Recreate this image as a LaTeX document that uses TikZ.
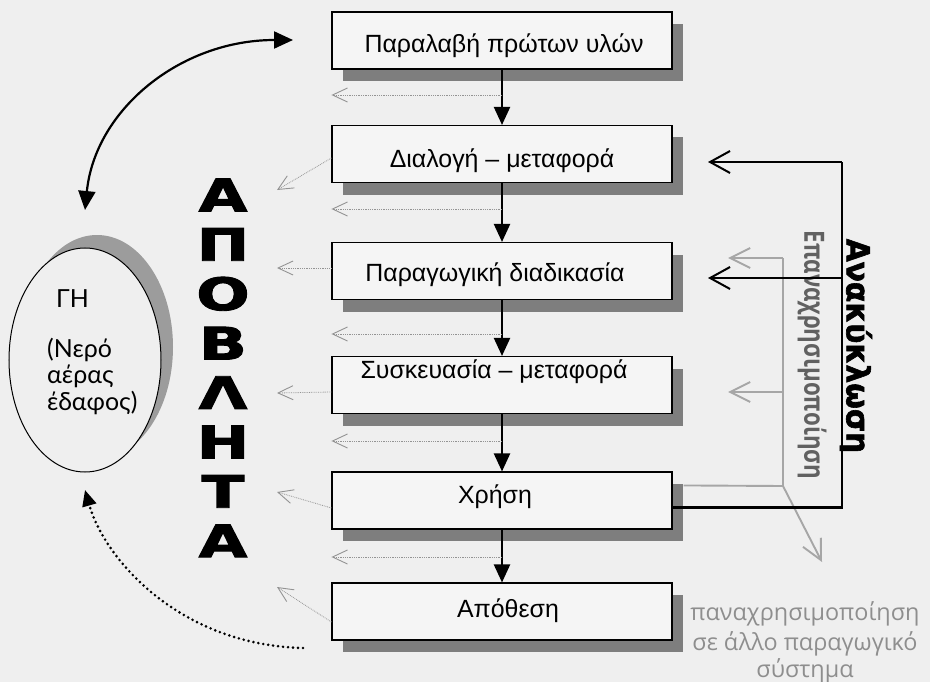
\documentclass[tikz,border=0pt]{standalone}
\usepackage{fontspec}
\setmainfont{Liberation Sans}
\newfontfamily\heavyfont{DejaVu Sans}[FakeBold=2]
\newfontfamily\humfont{Lato}
\newfontfamily\roundfont{Open Sans}
\usetikzlibrary{arrows.meta,shadows,calc,shapes.geometric}
\definecolor{bg}{HTML}{EFEFEF}
\definecolor{boxfill}{HTML}{F5F5F5}
\definecolor{shadowgray}{HTML}{7E7E7E}
\definecolor{crescent}{HTML}{9C9C9C}
\definecolor{reusegray}{HTML}{A6A6A6}
\definecolor{wastegray}{HTML}{939393}
\definecolor{labelgray}{HTML}{8E8E8E}
\begin{document}
\begin{tikzpicture}[x=1bp,y=-1bp,
  procbox/.style={draw=black,line width=1.1bp,fill=boxfill,minimum width=340bp,minimum height=57bp,inner sep=0pt,
    drop shadow={shadow xshift=11bp,shadow yshift=-12bp,fill=shadowgray,opacity=1}},
  boxtext/.style={anchor=base,inner sep=0pt,font=\fontsize{25}{25}\selectfont},
  earthtext/.style={anchor=base west,inner sep=0pt,font=\humfont\fontsize{25}{25}\selectfont},
  reusetext/.style={anchor=base,inner sep=0pt,text=labelgray,font=\roundfont\fontsize{23.5}{23.5}\selectfont},
  flowarrow/.style={line width=2.2bp,-{Triangle[width=16bp,length=18bp]}},
  wastearrow/.style={wastegray,line width=0.8bp,densely dotted,-{Straight Barb[length=15bp,width=14bp,line width=0.9bp]}},
  bigletter/.style={inner sep=0pt,font=\heavyfont\bfseries\fontsize{45}{45}\selectfont,xscale=1.4},
  recyarrow/.style={line width=2.2bp,-{Straight Barb[length=20bp,width=22bp,line width=2bp]}},
  reusearrow/.style={reusegray,line width=1.9bp,-{Straight Barb[length=20bp,width=20bp,line width=1.9bp]}},
  curvearrow/.style={line width=2.2bp,{Triangle[width=17bp,length=19bp]}-{Triangle[width=17bp,length=19bp]}},
  dotarrow/.style={line width=2.9bp,dash pattern=on 0bp off 5bp,line cap=round,-{Triangle[width=14bp,length=16bp]}}
]
\fill[bg] (0,0) rectangle (930,682);
\useasboundingbox (0,0) rectangle (930,682);

% Earth ellipse
\fill[crescent] (97,347) ellipse [x radius=76, y radius=112];
\node[draw=black,line width=1bp,fill=bg,ellipse,minimum width=152bp,minimum height=224bp,inner sep=0pt] (earth) at (85,360) {};
\node[earthtext,font=\humfont\fontsize{25}{25}\selectfont] (gh) at (56,307) {ΓΗ};
\node[earthtext] (el1) at (47,357) {(Νερό};
\node[earthtext] (el2) at (47,383) {αέρας};
\node[earthtext] (el3) at (47,410) {έδαφος)};

% Process boxes
\node[procbox] (b1) at (502,40.5) {};
\node[procbox] (b2) at (502,154) {};
\node[procbox] (b3) at (502,271) {};
\node[procbox] (b4) at (502,385) {};
\node[procbox] (b5) at (502,500.5) {};
\node[procbox] (b6) at (502,611.5) {};
\node[boxtext] (t1) at (504,52.5) {Παραλαβή πρώτων υλών};
\node[boxtext] (t2) at (502,167.5) {Διαλογή – μεταφορά};
\node[boxtext] (t3) at (495,281.5) {Παραγωγική διαδικασία};
\node[boxtext] (t4) at (494,378.5) {Συσκευασία – μεταφορά};
\node[boxtext] (t5) at (495,503.5) {Χρήση};
\node[boxtext] (t6) at (508,617.5) {Απόθεση};

% APOBLHTA
\foreach \L [count=\i] in {Α,Π,Ο,Β,Λ,Η,Τ,Α}{
  \node[bigletter] (wl\i) at (223,{195+(\i-1)*49.4}) {\L};
}

% Recycling label
\node[rotate=-90,xscale=0.93,inner sep=0pt,font=\heavyfont\bfseries\fontsize{32}{32}\selectfont] (recyl) at (856,346) {Ανακύκλωση};
\node[rotate=-90,xscale=0.8,inner sep=0pt,text=black!62,font=\roundfont\bfseries\fontsize{28}{28}\selectfont] (reusel) at (812,355) {Επαναχρησιμοποίηση};

% flow arrows
\draw[flowarrow] (b1.south) -- (b2.north);
\draw[flowarrow] (b2.south) -- (b3.north);
\draw[flowarrow] (b3.south) -- (b4.north);
\draw[flowarrow] (b4.south) -- (b5.north);
\draw[flowarrow] (b5.south) -- (b6.north);

% waste arrows between boxes
\coordinate (w1) at (502,95);
\coordinate (w2) at (502,209);
\coordinate (w3) at (502,334);
\coordinate (w4) at (502,441);
\coordinate (w5) at (502,557);
\foreach \w in {w1,w2,w3,w4,w5}{
  \draw[wastearrow] (\w) -- (\w -| b1.west);
}
% waste arrows from boxes
\coordinate (d2) at (277,190);
\coordinate (d3) at (277,268);
\coordinate (d4) at (277,393);
\coordinate (d5) at (277,492);
\coordinate (d6) at (277,587);
\draw[wastearrow] ($(b2.west)+(0,4)$) -- (d2);
\draw[wastearrow] ($(b3.west)+(0,-3)$) -- (d3);
\draw[wastearrow] ($(b4.west)+(0,7)$) -- (d4);
\draw[wastearrow] ($(b5.west)+(0,7.5)$) -- (d5);
\draw[wastearrow] ($(b6.west)+(0,10.5)$) -- (d6);

% reuse (gray) paths
\coordinate (gs) at ($(b5.north east)+(11,14)$);
\coordinate (gk) at (783,486);
\coordinate (gt) at (783,258);
\coordinate (gm) at (783,392);
\coordinate (ga1) at (728,258);
\coordinate (ga2) at (728,392);
\coordinate (gd) at (822,562);
\draw[reusegray,line width=1.9bp,line join=round] (gs) -- (gk) -- (gt);
\draw[reusearrow] (gt) -- (ga1);
\draw[reusearrow] (gm) -- (ga2);
\draw[reusearrow] (gk) -- (gd);

% recycling (black) paths
\coordinate (rs) at ($(b5.east)+(0,7)$);
\coordinate (rc1) at (842,507.5);
\coordinate (rc2) at (842,162);
\coordinate (rm) at (842,278);
\coordinate (ra1) at (708,162);
\coordinate (ra2) at (708,278);
\draw[line width=2.2bp,line join=miter] (rs) -- (rc1) -- (rc2);
\draw[recyarrow] (rc2) -- (ra1);
\draw[recyarrow] (rm) -- (ra2);

% reuse text
\node[reusetext] (ru1) at (805,620) {παναχρησιμοποίηση};
\node[reusetext] (ru2) at (805,650) {σε άλλο παραγωγικό};
\node[reusetext] (ru3) at (805,677) {σύστημα};

% curved arrows
\coordinate (c1) at (85,210);
\coordinate (c2) at (293,40);
\draw[curvearrow] (c1) .. controls (95,110) and (180,40) .. (c2);
\coordinate (e1) at (303,648);
\coordinate (e2) at (85,490);
\draw[dotarrow] (e1) .. controls (180,645) and (105,560) .. (e2);
\end{tikzpicture}
\end{document}
